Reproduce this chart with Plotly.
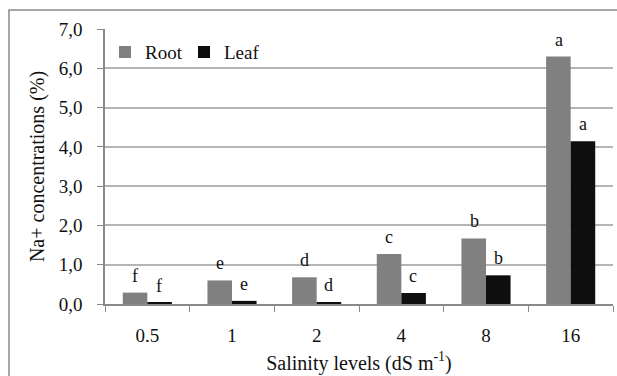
import plotly.graph_objects as go

categories = ["0.5", "1", "2", "4", "8", "16"]
root = [0.29, 0.60, 0.68, 1.27, 1.67, 6.30]
leaf = [0.03, 0.08, 0.05, 0.28, 0.73, 4.14]
root_letters = ["f", "e", "d", "c", "b", "a"]
leaf_letters = ["f", "e", "d", "c", "b", "a"]
yticks = [0, 1, 2, 3, 4, 5, 6, 7]

FONT = "Liberation Serif"
fig = go.Figure()
fig.add_trace(go.Bar(x=categories, y=root, name="Root", marker=dict(color="#808080", line=dict(width=0))))
fig.add_trace(go.Bar(x=categories, y=leaf, name="Leaf", marker=dict(color="#0e0e0e", line=dict(width=0))))

ann = []
for i, (v, t) in enumerate(zip(root, root_letters)):
    ann.append(dict(x=i, y=v, xref="x", yref="y", text=t, showarrow=False, xshift=-12, yshift=5,
                    yanchor="bottom", font=dict(family=FONT, size=18, color="#111")))
for i, (v, t) in enumerate(zip(leaf, leaf_letters)):
    ann.append(dict(x=i, y=v, xref="x", yref="y", text=t, showarrow=False, xshift=12, yshift=5,
                    yanchor="bottom", font=dict(family=FONT, size=18, color="#111")))

fig.update_layout(
    width=617, height=376,
    margin=dict(l=105, r=4, t=29, b=72),
    paper_bgcolor="white", plot_bgcolor="white",
    font=dict(family=FONT, size=18, color="#111"),
    separators=",.",
    barmode="group", bargap=0.42, bargroupgap=0,
    showlegend=True,
    legend=dict(orientation="h", x=0.0, y=0.985, xanchor="left", yanchor="top",
                bgcolor="rgba(0,0,0,0)", font=dict(family=FONT, size=19, color="#111"),
                entrywidth=34, entrywidthmode="pixels", itemwidth=30, tracegroupgap=0),
    annotations=ann,
    shapes=[dict(type="rect", xref="paper", yref="paper", x0=-0.189, x1=1.03, y0=-0.3, y1=1.069,
                 line=dict(color="#8a8a8a", width=1.5), fillcolor="rgba(0,0,0,0)", layer="below")],
    xaxis=dict(type="category", categoryorder="array", categoryarray=categories,
               range=[-0.5, len(categories) - 0.5], showline=True, linecolor="#8a8a8a", linewidth=1.5,
               ticks="outside", tickson="boundaries", ticklen=6, tickcolor="#8a8a8a", tickangle=0,
               ticklabelstandoff=13,
               showgrid=False, tickfont=dict(family=FONT, size=19, color="#111"),
               title=dict(text="Salinity levels (dS m<sup>-1</sup>)", standoff=11,
                          font=dict(family=FONT, size=20, color="#111"))),
    yaxis=dict(range=[0, 7], tickvals=yticks, tickformat=".1f", showline=True,
               linecolor="#8a8a8a", linewidth=1.5, ticks="outside", ticklen=6, tickcolor="#8a8a8a",
               ticklabelstandoff=11,
               showgrid=True, gridcolor="#b5b5b5", gridwidth=1.5, zeroline=False,
               tickfont=dict(family=FONT, size=19, color="#111"),
               title=dict(text="Na+ concentrations (%)", standoff=9,
                          font=dict(family=FONT, size=20, color="#111"))),
)
fig.write_html("out.html")
